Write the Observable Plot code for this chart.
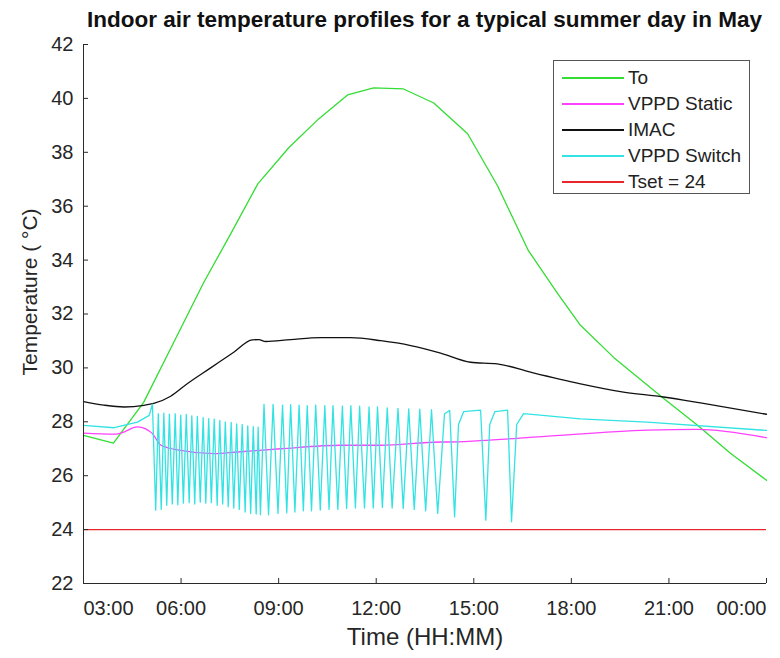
<!DOCTYPE html>
<html>
<head>
<meta charset="utf-8">
<script src="https://cdn.jsdelivr.net/npm/d3@7"></script>
<script src="https://cdn.jsdelivr.net/npm/@observablehq/plot@0.6"></script>
<style>
  body { margin: 0; background: #fff; font-family: "Liberation Sans", Arial, sans-serif; }
  #wrap { position: relative; width: 780px; height: 658px; overflow: hidden; }
  #title { position: absolute; left: 83px; width: 683px; top: 4px; text-align: center; font-weight: bold;
           font-size: 22.5px; line-height: 32px; color: #111; white-space: nowrap; }
  #chart { position: absolute; left: 0; top: 36px; }
  #legend { position: absolute; left: 553px; top: 60px; width: 197px; height: 134px; border: 1px solid #555;
            background: #fff; box-sizing: border-box; padding-top: 4px; }
  .row { height: 26px; display: flex; align-items: center; font-size: 19px; color: #222; }
  .sw { width: 62px; margin-left: 8px; margin-right: 4px; height: 2px; }
</style>
</head>
<body>
<div id="wrap">
  <div id="title">Indoor air temperature profiles for a typical summer day in May</div>
  <div id="chart"></div>
  <div id="legend"></div>
</div>
<script>
// ---- data (hours of day; 24 = midnight) ----
const seriesNames = ["To", "VPPD Static", "IMAC", "VPPD Switch", "Tset = 24"];
const seriesColors = ["#33dd33", "#ff40ff", "#111111", "#33e3e3", "#e8262b"];

const toHours = [3.00, 3.92, 4.85, 5.78, 6.70, 7.53, 8.36, 9.31, 10.23, 11.12, 11.92, 12.84, 13.77, 14.81, 15.73, 16.68, 17.58, 18.28, 19.30, 20.83, 21.88, 22.89, 24.00];
const toTemp  = [27.50, 27.21, 28.72, 30.96, 33.18, 34.98, 36.83, 38.17, 39.24, 40.13, 40.39, 40.35, 39.83, 38.69, 36.76, 34.35, 32.76, 31.58, 30.39, 28.87, 27.87, 26.83, 25.83];

const staticHours = [3.00, 3.94, 4.15, 4.66, 4.91, 5.12, 5.38, 5.99, 7.01, 7.73, 9.06, 10.91, 12.14, 13.98, 14.19, 15.20, 17.10, 20.33, 21.87, 24.00];
const staticTemp  = [27.58, 27.54, 27.58, 27.81, 27.74, 27.56, 27.13, 26.94, 26.82, 26.88, 27.00, 27.13, 27.13, 27.25, 27.25, 27.30, 27.45, 27.69, 27.72, 27.41];

const imacHours = [3.00, 3.62, 4.25, 4.86, 5.16, 5.68, 6.20, 6.91, 7.62, 8.19, 8.39, 8.60, 9.37, 10.29, 11.21, 12.14, 13.06, 13.98, 14.90, 15.72, 16.75, 18.28, 19.51, 20.83, 21.97, 24.00];
const imacTemp  = [28.75, 28.62, 28.55, 28.61, 28.68, 28.95, 29.42, 30.00, 30.58, 31.04, 31.05, 30.98, 31.05, 31.12, 31.12, 31.01, 30.83, 30.55, 30.21, 30.15, 29.84, 29.41, 29.12, 28.92, 28.70, 28.28];

const switchHours = [3.00, 3.94, 4.66, 5.02, 5.12, 5.22,
  5.30, 5.39, 5.47, 5.56, 5.64, 5.73, 5.82, 5.90, 5.99, 6.07, 6.16, 6.25, 6.33, 6.42, 6.50, 6.59, 6.68, 6.76,
  6.85, 6.93, 7.02, 7.11, 7.19, 7.28, 7.36, 7.45, 7.54, 7.62, 7.71, 7.79, 7.88, 7.97, 8.05, 8.14, 8.22, 8.31, 8.37, 8.44,
  8.55, 8.69, 8.83, 8.98, 9.12, 9.25, 9.37, 9.50, 9.63, 9.76, 9.88, 10.01, 10.14, 10.28, 10.42, 10.55, 10.67, 10.82,
  10.96, 11.09, 11.22, 11.36, 11.49, 11.64, 11.78, 11.91, 12.04, 12.19, 12.34, 12.49, 12.67, 12.83, 13.00, 13.17,
  13.34, 13.52, 13.70, 13.89, 14.10, 14.26, 14.41, 14.53, 14.69, 15.21, 15.37, 15.49, 15.65, 16.04, 16.16, 16.32, 16.53,
  18.28, 20.33, 24.00];
const switchTemp = [27.87, 27.78, 27.99, 28.24, 28.65, 24.72,
  28.30, 24.75, 28.32, 24.90, 28.28, 24.95, 28.30, 24.92, 28.25, 24.98, 28.27, 25.00, 28.22, 24.95, 28.20, 25.02, 28.15, 24.98,
  28.12, 25.00, 28.10, 24.90, 28.05, 24.95, 28.00, 24.85, 27.98, 24.80, 27.92, 24.75, 27.90, 24.65, 27.85, 24.60, 27.82, 24.58, 27.80, 24.55,
  28.65, 24.55, 28.65, 24.60, 28.62, 24.62, 28.64, 24.65, 28.62, 24.70, 28.60, 24.70, 28.62, 24.72, 28.60, 24.75, 28.60, 24.75,
  28.58, 24.78, 28.60, 24.80, 28.58, 24.80, 28.55, 24.80, 28.55, 24.82, 28.52, 24.80, 28.50, 24.78, 28.48, 24.75,
  28.47, 24.70, 28.45, 24.60, 28.30, 28.42, 24.47, 27.90, 28.38, 28.43, 24.35, 27.90, 28.38, 28.43, 24.29, 27.90, 28.30,
  28.11, 27.99, 27.68];

const tset = 24;

const xTicks = [3, 6, 9, 12, 15, 18, 21, 24];
const yTicks = [22, 24, 26, 28, 30, 32, 34, 36, 38, 40, 42];
const xLabel = "Time (HH:MM)";
const yLabel = "Temperature ( °C)";

// ---- build table ----
const rows = [];
const addSeries = (name, hs, ts) => hs.forEach((h, i) => rows.push({series: name, hour: h, temp: ts[i]}));
addSeries("To", toHours, toTemp);
addSeries("VPPD Static", staticHours, staticTemp);
addSeries("IMAC", imacHours, imacTemp);
addSeries("VPPD Switch", switchHours, switchTemp);

const fmt = h => String(h % 24).padStart(2, "0") + ":00";
const axisColor = "#2a2a2a";
const fs = 20;

const lineFor = (name, curve = "linear") => Plot.line(rows.filter(d => d.series === name), {
  x: "hour", y: "temp", stroke: seriesColors[seriesNames.indexOf(name)], strokeWidth: 1.3, curve
});

const chart = Plot.plot({
  width: 780, height: 622,
  marginLeft: 83, marginRight: 14, marginTop: 8, marginBottom: 75,
  style: {fontFamily: "'Liberation Sans', Arial, sans-serif", fontSize: fs + "px", color: "#262626", overflow: "visible", background: "transparent"},
  x: {domain: [3, 24]},
  y: {domain: [22, 42]},
  marks: [
    lineFor("To"),
    lineFor("VPPD Static", "monotone-x"),
    lineFor("IMAC", "monotone-x"),
    lineFor("VPPD Switch"),
    Plot.ruleY([tset], {stroke: seriesColors[4], strokeWidth: 1.3}),
    Plot.ruleX([3], {stroke: axisColor}),
    Plot.ruleY([22], {stroke: axisColor}),
    Plot.axisY(yTicks, {tickSize: -5, tickPadding: 15, fontSize: fs, label: null, stroke: axisColor}),
    Plot.axisX(xTicks.slice(1, -1), {tickSize: -5, tickPadding: 22, tickFormat: fmt, fontSize: fs, label: null, stroke: axisColor}),
    Plot.axisX([xTicks[0]], {tickSize: 0, tickPadding: 17, tickFormat: fmt, fontSize: fs, label: null, textAnchor: "start"}),
    Plot.axisX([xTicks[xTicks.length - 1]], {tickSize: -5, tickPadding: 22, tickFormat: fmt, fontSize: fs, label: null, textAnchor: "end", stroke: axisColor}),
    Plot.text([xLabel], {frameAnchor: "bottom", dy: 61, fontSize: 24, text: d => d, fill: "#262626"}),
    Plot.text([yLabel], {frameAnchor: "left", textAnchor: "middle", rotate: -90, dx: -53, dy: -22, fontSize: 21, text: d => d, fill: "#262626"})
  ]
});
document.getElementById("chart").appendChild(chart);

// ---- legend ----
const lg = document.getElementById("legend");
seriesNames.forEach((n, i) => {
  const r = document.createElement("div");
  r.className = "row";
  const s = document.createElement("div");
  s.className = "sw";
  s.style.background = seriesColors[i];
  const t = document.createElement("span");
  t.textContent = n;
  r.appendChild(s); r.appendChild(t);
  lg.appendChild(r);
});
</script>
</body>
</html>
